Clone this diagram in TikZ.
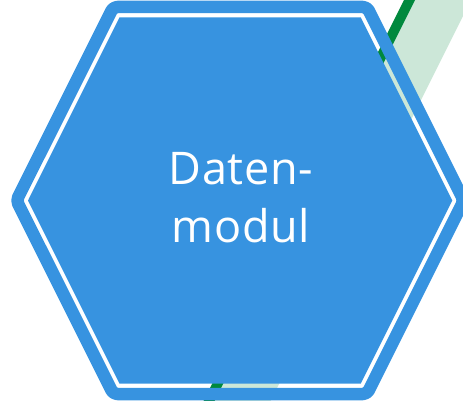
\documentclass[tikz,border=0pt]{standalone}
\usepackage{fontspec}
\setmainfont{Open Sans}
\definecolor{hexblue}{HTML}{3793E0}
\definecolor{darkgreen}{HTML}{00893D}
\definecolor{lightgreen}{HTML}{CCE7D8}
\tikzset{
  ring/.style={draw=hexblue,line width=12.5pt,line join=round,rounded corners=4pt},
  core/.style={fill=hexblue},
  labeltext/.style={text=white,font=\addfontfeature{LetterSpace=1.5}\fontsize{45}{58}\selectfont,align=center,inner sep=0pt}
}
\begin{document}
\begin{tikzpicture}[x=1pt,y=-1pt]
\useasboundingbox (0,0) rectangle (463,401);
\begin{scope}
\clip (0,0) rectangle (463,401);
\fill[lightgreen] (414,-20) -- (481,-20) -- (261,420) -- (194,420) -- cycle;
\fill[darkgreen] (414,-20) -- (425,-20) -- (205,420) -- (194,420) -- cycle;
\draw[ring] (16.5,200.5) -- (113.3,7) -- (367,7) -- (463.75,200.5) -- (367,394) -- (113.3,394) -- cycle;
\fill[core] (28,200.5) -- (119.4,17.5) -- (360.8,17.5) -- (452.25,200.5) -- (360.8,383.5) -- (119.4,383.5) -- cycle;
\end{scope}
\node[labeltext] (label) at (241,198) {Daten-\\modul};
\end{tikzpicture}
\end{document}
